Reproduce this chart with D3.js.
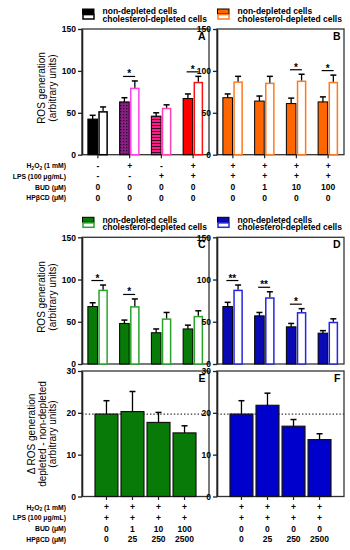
<html>
<head>
<title>ROS generation panels</title>
<style>body{margin:0;background-color:#fff}</style>
<script src="https://cdn.jsdelivr.net/npm/d3@7/dist/d3.min.js"></script>
</head>
<body>
<div id="chart"></div>
<script type="text/javascript">
// categories / labels
var groupKeys = ["g1", "g2", "g3", "g4"];
var seriesNames = ["non-depleted cells", "cholesterol-depleted cells"];
var rosTicks = [0, 50, 100, 150];
var deltaTicks = [0, 10, 20, 30];
var rowLabels = ["H2O2 (1 mM)", "LPS (100 \u03BCg/mL)", "BUD (\u03BCM)", "HP\u03B2CD (\u03BCM)"];

// panel A
var nonDepA = [42.5, 63, 46, 67];
var nonDepErrA = [4.5, 5, 4, 5.5];
var depA = [52, 80, 56, 87];
var depErrA = [5, 8, 3.5, 6.5];
var starsA = ["", "*", "", "*"];
var h2o2A = ["-", "+", "-", "+"];
var lpsA = ["-", "-", "+", "+"];
var budA = ["0", "0", "0", "0"];
var hpA = ["0", "0", "0", "0"];

// panel B
var nonDepB = [68, 64, 61, 63];
var nonDepErrB = [4.5, 6, 6.5, 6];
var depB = [87.5, 86, 88.5, 87];
var depErrB = [6, 7.5, 7.5, 8];
var starsB = ["", "", "*", "*"];
var h2o2B = ["+", "+", "+", "+"];
var lpsB = ["+", "+", "+", "+"];
var budB = ["0", "1", "10", "100"];
var hpB = ["0", "0", "0", "0"];

// panel C
var nonDepC = [68, 48, 37, 41.5];
var nonDepErrC = [4.5, 4, 4.5, 4.5];
var depC = [88, 68.5, 54, 57];
var depErrC = [5.5, 8.5, 7, 6];
var starsC = ["*", "*", "", ""];

// panel D
var nonDepD = [68, 57, 44, 36.5];
var nonDepErrD = [5, 4, 4, 3];
var depD = [88, 79, 61.5, 50];
var depErrD = [5.5, 6.5, 4, 3.5];
var starsD = ["**", "**", "*", ""];

// panel E / F (depleted - non-depleted)
var deltaE = [19.7, 20.3, 17.7, 15.2];
var deltaErrE = [3.2, 4.8, 2.4, 1.7];
var deltaF = [19.7, 21.8, 16.8, 13.6];
var deltaErrF = [3.2, 2.9, 1.6, 1.4];
var deltaRef = 19.7;
var h2o2E = ["+", "+", "+", "+"];
var lpsE = ["+", "+", "+", "+"];
var budE = ["0", "1", "10", "100"];
var hpE = ["0", "25", "250", "2500"];
var budF = ["0", "0", "0", "0"];
var hpF = ["0", "25", "250", "2500"];

var FONT = "Arial, 'Liberation Sans', sans-serif";

var svg = d3.select("#chart").append("svg")
    .attr("width", 350)
    .attr("height", 550)
    .style("font-family", FONT);

// patterns for panel A
var defs = svg.append("defs");
var chk = defs.append("pattern").attr("id", "checker")
    .attr("patternUnits", "userSpaceOnUse").attr("width", 3).attr("height", 3);
chk.append("rect").attr("width", 3).attr("height", 3).attr("fill", "#8a1f86");
chk.append("rect").attr("width", 1.3).attr("height", 1.3).attr("fill", "#2a0a28");
var str = defs.append("pattern").attr("id", "stripes")
    .attr("patternUnits", "userSpaceOnUse").attr("width", 4).attr("height", 3);
str.append("rect").attr("width", 4).attr("height", 3).attr("fill", "#ff1a8c");
str.append("rect").attr("y", 2).attr("width", 4).attr("height", 1).attr("fill", "#3a0a20");

function yAxis(y, left, ticks) {
    var g = svg.append("g")
        .attr("transform", "translate(" + left + ",0)")
        .call(d3.axisLeft(y).tickValues(ticks).tickSize(4).tickSizeOuter(0).tickPadding(2));
    g.selectAll("text")
        .attr("font-size", "8.5px")
        .attr("font-weight", "bold")
        .attr("font-family", FONT)
        .attr("fill", "#000");
    g.select(".domain").attr("stroke", "#222").attr("stroke-width", 1.6);
    g.selectAll(".tick line").attr("stroke", "#222").attr("stroke-width", 1.3);
}

function frame(p) {
    svg.append("rect")
        .attr("x", p.left).attr("y", p.top)
        .attr("width", p.right - p.left).attr("height", p.bottom - p.top)
        .attr("fill", "none").attr("stroke", "#333").attr("stroke-width", 1.3);
    svg.append("text")
        .attr("x", p.right - 3.5).attr("y", p.top + 10.5)
        .attr("text-anchor", "end")
        .attr("font-size", "10.5px").attr("font-weight", "bold")
        .text(p.letter);
}

function bottomTicks(p, centerOf) {
    groupKeys.forEach(function(k) {
        var cx = centerOf(k);
        svg.append("line")
            .attr("x1", cx).attr("x2", cx)
            .attr("y1", p.bottom).attr("y2", p.bottom + 3.5)
            .attr("stroke", "#222").attr("stroke-width", 1.2);
    });
}

function errBar(cx, yTop, yErr) {
    svg.append("line").attr("x1", cx).attr("x2", cx).attr("y1", yTop).attr("y2", yErr)
        .attr("stroke", "#000").attr("stroke-width", 1.3);
    svg.append("line").attr("x1", cx - 3).attr("x2", cx + 3).attr("y1", yErr).attr("y2", yErr)
        .attr("stroke", "#000").attr("stroke-width", 1.5);
}

function legend(p, fill, stroke) {
    var ly = p.top - 17.5;
    svg.append("rect").attr("x", p.left + 0.5).attr("y", ly - 2.5)
        .attr("width", 11.5).attr("height", 5)
        .attr("fill", fill).attr("stroke", "#000").attr("stroke-width", 1);
    svg.append("rect").attr("x", p.left + 1).attr("y", ly + 5.3 - 2.2)
        .attr("width", 11).attr("height", 4.4)
        .attr("fill", "#fff").attr("stroke", stroke).attr("stroke-width", 1.5);
    seriesNames.forEach(function(s, i) {
        svg.append("text")
            .attr("x", p.left + 20.5).attr("y", ly + i * 7.6)
            .attr("dy", "0.33em")
            .attr("font-size", "8.5px").attr("font-weight", "bold")
            .text(s);
    });
}

function yTitle(lines, cx, cy) {
    lines.forEach(function(t, i) {
        svg.append("text")
            .attr("transform", "translate(" + (cx + i * 10.5 + 3.6) + "," + cy + ") rotate(-90)")
            .attr("text-anchor", "middle")
            .attr("font-size", "10px")
            .text(t);
    });
}

function rowTable(p, centerOf, rows, withLabels) {
    var offs = [11, 21.5, 32.5, 43];
    rows.forEach(function(vals, r) {
        var yy = p.bottom + offs[r];
        if (withLabels) {
            var t = svg.append("text")
                .attr("x", 66).attr("y", yy).attr("dy", "0.35em")
                .attr("text-anchor", "end")
                .attr("font-size", "6.8px").attr("font-weight", "bold");
            if (r === 0) {
                t.append("tspan").text("H");
                t.append("tspan").attr("dy", 1.6).attr("font-size", "5px").text("2");
                t.append("tspan").attr("dy", -1.6).text("O");
                t.append("tspan").attr("dy", 1.6).attr("font-size", "5px").text("2");
                t.append("tspan").attr("dy", -1.6).text(" (1 mM)");
            } else {
                t.text(rowLabels[r]);
            }
        }
        vals.forEach(function(v, i) {
            svg.append("text")
                .attr("x", centerOf(groupKeys[i])).attr("y", yy).attr("dy", "0.35em")
                .attr("text-anchor", "middle")
                .attr("font-size", "8.5px").attr("font-weight", "bold")
                .text(v);
        });
    });
}

function groupedPanel(p) {
    var y = d3.scaleLinear().domain([0, 150]).range([p.bottom, p.top]);
    var x0 = d3.scaleBand().domain(groupKeys).range([p.left, p.right])
        .paddingInner(0.37).paddingOuter(0.185);
    var x1 = d3.scaleBand().domain(["non", "dep"]).range([0, x0.bandwidth()]).paddingInner(0.08);
    var bw = x1.bandwidth();

    frame(p);
    groupKeys.forEach(function(k, i) {
        var bx = x0(k) + x1("non");
        svg.append("rect")
            .attr("x", bx).attr("y", y(p.non[i]))
            .attr("width", bw).attr("height", p.bottom - y(p.non[i]))
            .attr("fill", p.fills[i]).attr("stroke", "#000").attr("stroke-width", 1);
        errBar(bx + bw / 2, y(p.non[i]), y(p.non[i] + p.nonErr[i]));

        var dx = x0(k) + x1("dep");
        svg.append("rect")
            .attr("x", dx + 0.75).attr("y", y(p.dep[i]) + 0.75)
            .attr("width", bw - 1.5).attr("height", p.bottom - y(p.dep[i]) - 0.75)
            .attr("fill", "#fff").attr("stroke", p.strokes[i]).attr("stroke-width", 1.5);
        errBar(dx + bw / 2, y(p.dep[i]), y(p.dep[i] + p.depErr[i]));

        if (p.stars[i]) {
            var cx = x0(k) + x0.bandwidth() / 2 - 0.5;
            var top = Math.max(p.dep[i] + p.depErr[i], p.non[i] + p.nonErr[i]);
            var ly = y(top) - 4.5;
            svg.append("line").attr("x1", cx - 6).attr("x2", cx + 6)
                .attr("y1", ly).attr("y2", ly)
                .attr("stroke", "#000").attr("stroke-width", 1.2);
            svg.append("text")
                .attr("x", cx).attr("y", ly + 1)
                .attr("text-anchor", "middle")
                .attr("font-size", "10px").attr("font-weight", "bold")
                .text(p.stars[i]);
        }
    });
    yAxis(y, p.left, rosTicks);
    legend(p, p.legendFill, p.legendStroke);
    var centerOf = function(k) { return x0(k) + x0.bandwidth() / 2; };
    if (p.rows) {
        bottomTicks(p, centerOf);
        rowTable(p, centerOf, p.rows, p.withLabels);
    }
}

function deltaPanel(p) {
    var y = d3.scaleLinear().domain([0, 30]).range([p.bottom, p.top]);
    var x = d3.scaleBand().domain(groupKeys).range([p.left, p.right])
        .paddingInner(0.12).paddingOuter(0.5);
    frame(p);
    svg.append("line")
        .attr("x1", p.left).attr("x2", p.right)
        .attr("y1", y(deltaRef)).attr("y2", y(deltaRef))
        .attr("stroke", "#333").attr("stroke-width", 1.1)
        .attr("stroke-dasharray", "1.4,2");
    groupKeys.forEach(function(k, i) {
        svg.append("rect")
            .attr("x", x(k)).attr("y", y(p.vals[i]))
            .attr("width", x.bandwidth()).attr("height", p.bottom - y(p.vals[i]))
            .attr("fill", p.fill).attr("stroke", "#111").attr("stroke-width", 1.2);
        errBar(x(k) + x.bandwidth() / 2, y(p.vals[i]), y(p.vals[i] + p.errs[i]));
    });
    yAxis(y, p.left, deltaTicks);
    var centerOf = function(k) { return x(k) + x.bandwidth() / 2; };
    bottomTicks(p, centerOf);
    rowTable(p, centerOf, p.rows, p.withLabels);
}

var topY = 29, botY = 154.7;
var midTop = 237.3, midBot = 364;
var lowTop = 371, lowBot = 496.5;
var leftL = 82, leftR = 209, rightL = 217, rightR = 344;

groupedPanel({
    left: leftL, right: leftR, top: topY, bottom: botY, letter: "A",
    non: nonDepA, nonErr: nonDepErrA, dep: depA, depErr: depErrA, stars: starsA,
    fills: ["#000000", "url(#checker)", "url(#stripes)", "#ff0000"],
    strokes: ["#000000", "#ff40e6", "#ff3fb4", "#ff1010"],
    legendFill: "#000", legendStroke: "#000",
    rows: [h2o2A, lpsA, budA, hpA], withLabels: true
});
groupedPanel({
    left: rightL, right: rightR, top: topY, bottom: botY, letter: "B",
    non: nonDepB, nonErr: nonDepErrB, dep: depB, depErr: depErrB, stars: starsB,
    fills: ["#ff6600", "#ff6600", "#ff6600", "#ff6600"],
    strokes: ["#ff7a1f", "#ff7a1f", "#ff7a1f", "#ff7a1f"],
    legendFill: "#ff6600", legendStroke: "#ff7a1f",
    rows: [h2o2B, lpsB, budB, hpB], withLabels: false
});
groupedPanel({
    left: leftL, right: leftR, top: midTop, bottom: midBot, letter: "C",
    non: nonDepC, nonErr: nonDepErrC, dep: depC, depErr: depErrC, stars: starsC,
    fills: ["#087a08", "#087a08", "#087a08", "#087a08"],
    strokes: ["#2aa52a", "#2aa52a", "#2aa52a", "#2aa52a"],
    legendFill: "#087a08", legendStroke: "#2aa52a"
});
groupedPanel({
    left: rightL, right: rightR, top: midTop, bottom: midBot, letter: "D",
    non: nonDepD, nonErr: nonDepErrD, dep: depD, depErr: depErrD, stars: starsD,
    fills: ["#0a0ab4", "#0a0ab4", "#0a0ab4", "#0a0ab4"],
    strokes: ["#2626e0", "#2626e0", "#2626e0", "#2626e0"],
    legendFill: "#0a0ab4", legendStroke: "#2626e0"
});
deltaPanel({
    left: leftL, right: leftR, top: lowTop, bottom: lowBot, letter: "E",
    vals: deltaE, errs: deltaErrE, fill: "#087a08",
    rows: [h2o2E, lpsE, budE, hpE], withLabels: true
});
deltaPanel({
    left: rightL, right: rightR, top: lowTop, bottom: lowBot, letter: "F",
    vals: deltaF, errs: deltaErrF, fill: "#0000cc",
    rows: [h2o2E, lpsE, budF, hpF], withLabels: false
});

yTitle(["ROS generation", "(arbitrary units)"], 41.5, 88);
yTitle(["ROS generation", "(arbitrary units)"], 41.5, 297);
yTitle(["\u0394 ROS generation", "depleted - non-depleted", "(arbitrary units)"], 31.5, 434);
</script>
</body>
</html>
